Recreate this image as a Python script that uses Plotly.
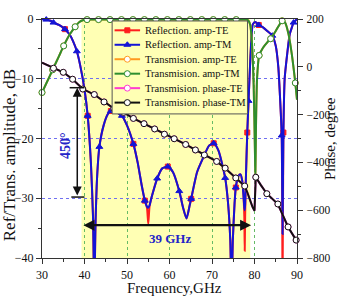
import plotly.graph_objects as go

# ---------------- data ----------------
refl_freq = [30, 31, 32, 32.7, 34, 35.4, 36.5, 37.3, 38.2, 39, 40, 40.75, 41.5, 42.0, 42.3, 42.6, 43.0, 43.5,
             44.5, 45.5, 46.2, 47.2, 48.0, 48.8, 50.0, 51.5, 52.5, 53.5, 54.2, 54.7, 55.0, 55.3, 55.8, 57.1,
             58.3, 59.6, 60.8, 62.3, 63.2, 64.0, 64.8, 65.1, 66.5, 68.2, 69.3, 70.4, 71.5, 73.1, 73.8, 74.3,
             74.6, 74.9, 75.3, 75.6, 76.2, 76.7, 77.1, 77.4, 77.6, 77.7, 77.8, 78.0, 78.3, 78.6, 79.0, 79.3,
             79.6, 80.2, 81.0, 82.0, 83.0, 84.2, 85.0, 85.6, 86.0, 86.4, 86.6, 86.8, 87.1, 87.7, 88.3, 88.8,
             89.2, 90]
refl_tm = [0, -0.1, -0.3, -0.6, -1.0, -1.7, -2.6, -3.7, -5.4, -7.8, -11.8, -16.2, -24, -33, -46, -34, -26, -21.4,
           -17.8, -15.9, -15.4, -15.5, -15.8, -16.2, -17.8, -20.9, -24, -28, -30.4, -31.4, -31.6, -31.2, -29.8, -26.7,
           -25.0, -24.7, -25.6, -28.8, -31.6, -33.4, -31.0, -30.1, -25.6, -22.8, -21.2, -20.8, -22.0, -26.6, -31, -37,
           -46, -37, -31, -28.2, -26.3, -26.0, -27, -29.5, -31.5, -32, -31, -26, -19, -13.7, -7, -3,
           -0.9, -0.5, -1.0, -1.4, -2.0, -2.8, -4.5, -8, -13, -19.5, -36, -19, -10, -5.8, -2.5, -1.4,
           -0.6, 0]
refl_te = [0, -0.1, -0.3, -0.6, -1.0, -1.7, -2.6, -3.7, -5.4, -7.8, -11.8, -16.2, -24, -33, -46, -34, -26, -21.4,
           -17.8, -15.9, -15.4, -15.5, -15.8, -16.2, -17.8, -20.9, -24, -28, -30.4, -31.6, -34.3, -31.4, -29.8, -26.7,
           -25.0, -24.7, -25.6, -28.8, -31.6, -33.4, -31.0, -30.1, -25.6, -22.8, -21.2, -20.8, -22.0, -26.6, -31, -37,
           -46, -37, -31, -28.2, -26.3, -26.0, -27, -29.5, -33, -38.8, -33, -26, -19, -13.7, -7, -3,
           -0.9, -0.5, -1.0, -1.4, -2.0, -2.8, -4.5, -8, -13, -19.5, -46, -19, -10, -5.8, -2.5, -1.4,
           -0.6, 0]
refl_tm_marks = [31, 32.7, 35.4, 38.2, 40.75, 43.5, 46.2, 48.8, 51.5, 54.2, 57.1, 59.6, 62.3, 65.1, 68.2, 70.4,
                 73.1, 75.6, 78.6, 81.0, 84.2, 86.4, 89.2]
refl_te_marks = [35.4, 40.75, 46.2, 51.5, 54.2, 59.6, 65.1, 70.4, 75.6, 78.3, 81.0, 86.8]

trans_freq = [30, 31, 32.5, 34, 35.1, 36.5, 37.8, 38.8, 39.6, 40.6, 43.3, 46.0, 48.7, 51.4, 54.1, 56.8, 59.5,
              62.2, 64.9, 67.6, 70.3, 73.0, 75.7, 77.5, 78.2, 78.6, 79.0, 79.4, 79.8, 80.1, 80.2, 80.35, 80.6,
              81.1, 82.0, 83.0, 83.8, 85.0, 86.0, 86.5, 87.2, 88.0, 88.8, 89.6, 90]
trans_tm = [-12.3, -10.8, -8.5, -6.2, -4.5, -2.6, -1.3, -0.5, -0.2, -0.1, -0.1, -0.1, -0.1, -0.1, -0.1, -0.1, -0.1,
            -0.1, -0.1, -0.1, -0.1, -0.1, -0.1, -0.1, -0.1, -0.3, -1.0, -4.0, -11.0, -22.0, -26.5, -18.0, -10.0,
            -6.1, -4.8, -3.9, -3.3, -2.0, -0.8, -0.3, -0.6, -2.5, -6.0, -10.7, -13.5]
trans_te = list(trans_tm)
trans_marks = [30, 32.5, 35.1, 37.8, 40.6, 43.3, 46.0, 48.7, 51.4, 54.1, 56.8, 59.5, 62.2, 64.9, 67.6, 70.3,
               73.0, 75.7, 81.1, 83.8, 86.5, 89.6]

phase_freq = [30, 32.7, 35.0, 37.2, 39.6, 42.3, 44.6, 46.9, 49.2, 51.5, 54.0, 56.5, 58.8, 61.1, 63.8, 66.1,
              68.2, 71.1, 73.1, 75.6, 77.7, 78.3, 78.9, 79.5, 80.0, 80.3, 81.5, 82.9, 85.5, 86.4, 87.9, 89.8, 90]
phase_tm = [17, -6, -23, -52, -93, -116, -147, -175, -191, -216, -238, -260, -282, -301, -325, -348,
            -369, -396, -424, -465, -499, -525, -560, -585, -602, -462, -495, -531, -574, -609, -670, -725, -730]
phase_te = list(phase_tm)
phase_marks = [32.7, 35.0, 37.2, 39.6, 42.3, 44.6, 46.9, 49.2, 51.5, 54.0, 56.5, 58.8, 61.1, 63.8, 66.1,
               68.2, 71.1, 73.1, 75.6, 77.7, 80.3, 82.9, 85.5, 87.9, 89.8]

x_ticks = [30, 40, 50, 60, 70, 80, 90]
y_ticks = [0, -10, -20, -30, -40]
y2_ticks = [200, 0, -200, -400, -600, -800]

band = [39.3, 79.0]          # shaded pass band
span_arrow = [39.4, 79.2]    # "39 GHz" arrow ends
phase_arrow = [-11.5, -29.8] # "450°" arrow ends (dB scale)

names = ["Reflection. amp-TE", "Reflection. amp-TM", "Transmision. amp-TE",
         "Transmision. amp-TM", "Transmision. phase-TE", "Transmision. phase-TM"]

# ---------------- style ----------------
FONT = "Liberation Serif"
RED = "#FF1E1E"
BLUE = "#1414D6"
ORANGE = "#FF9A1F"
GREEN = "#2E8E2E"
MAGENTA = "#FF3CD0"
BLACK = "#111111"
YELLOW = "#FFFFB4"
TXT_BLUE = "#2424C8"

W, H = 342, 300
ML, MR, MT, MB = 42, 40, 15, 42

fig = go.Figure()

specs = [
    (RED, "square", 5, RED),
    (BLUE, "triangle-up", 6, BLUE),
    (ORANGE, "circle", 6, "white"),
    (GREEN, "circle", 6, "white"),
    (MAGENTA, "circle", 6, "white"),
    (BLACK, "circle", 6, "white"),
]


def add_series(xs, ys, marks, spec, yaxis="y", shape="spline"):
    col, sym, sz, fill = spec
    fig.add_trace(go.Scatter(x=xs, y=ys, mode="lines", showlegend=False, yaxis=yaxis,
                             line=dict(color=col, width=2, shape=shape, smoothing=0.6)))
    mx = [x for x in xs if x in marks]
    my = [y for x, y in zip(xs, ys) if x in marks]
    fig.add_trace(go.Scatter(x=mx, y=my, mode="markers", showlegend=False, yaxis=yaxis, cliponaxis=False,
                             marker=dict(symbol=sym, size=sz, color=fill, line=dict(color=col, width=1))))


add_series(refl_freq, refl_te, refl_te_marks, specs[0])
add_series(refl_freq, refl_tm, refl_tm_marks, specs[1])
add_series(trans_freq, trans_te, trans_marks, specs[2])
add_series(trans_freq, trans_tm, trans_marks, specs[3])
add_series(phase_freq, phase_te, phase_marks, specs[4], yaxis="y2", shape="linear")
add_series(phase_freq, phase_tm, phase_marks, specs[5], yaxis="y2", shape="linear")

# ---------------- legend box drawn in a pixel-coordinate overlay ----------------
box_l, box_r, box_t, box_b = 113.5, 251.5, 17, 111.5
row_y0, row_dy = 26.5, 14.7
fig.add_trace(go.Scatter(x=[box_l, box_r, box_r, box_l, box_l], y=[box_t, box_t, box_b, box_b, box_t],
                         xaxis="x3", yaxis="y3", mode="lines", fill="toself", fillcolor=YELLOW,
                         line=dict(color="#555555", width=1), showlegend=False, hoverinfo="skip"))
for i, (nm, sp) in enumerate(zip(names, specs)):
    col, sym, sz, fill = sp
    yy = row_y0 + i * row_dy
    fig.add_trace(go.Scatter(x=[116, 142], y=[yy, yy], xaxis="x3", yaxis="y3", mode="lines",
                             line=dict(color=col, width=2), showlegend=False, hoverinfo="skip"))
    fig.add_trace(go.Scatter(x=[129], y=[yy], xaxis="x3", yaxis="y3", mode="markers", showlegend=False,
                             marker=dict(symbol=sym, size=sz, color=fill, line=dict(color=col, width=1)),
                             hoverinfo="skip"))
    fig.add_annotation(x=145, y=yy, xref="x3", yref="y3", text=nm, showarrow=False, xanchor="left",
                       yanchor="middle", font=dict(family=FONT, size=10.5, color=BLACK))

fig.add_shape(type="rect", xref="x", yref="paper", x0=band[0], x1=band[1], y0=0, y1=1,
              fillcolor=YELLOW, line=dict(width=0), layer="below")

# 450 degree bracket
fig.add_shape(type="line", xref="x", yref="y", x0=36.5, x1=40.0, y0=phase_arrow[0], y1=phase_arrow[0],
              line=dict(color=BLACK, width=1.5))
fig.add_shape(type="line", xref="x", yref="y", x0=36.9, x1=40.0, y0=phase_arrow[1], y1=phase_arrow[1],
              line=dict(color=BLACK, width=1.5))
fig.add_annotation(x=38.3, y=phase_arrow[0], ax=38.3, ay=phase_arrow[1], xref="x", yref="y",
                   axref="x", ayref="y", text="", showarrow=True, arrowhead=2, startarrowhead=2,
                   arrowside="end+start", arrowsize=1.2, arrowwidth=1.5, arrowcolor=BLACK,
                   standoff=0, startstandoff=0)
fig.add_annotation(x=35.4, y=-21.1, xref="x", yref="y", text="<b>450°</b>", showarrow=False,
                   textangle=-90, xanchor="center", yanchor="middle",
                   font=dict(family=FONT, size=14, color=TXT_BLUE))

# 39 GHz span
fig.add_annotation(x=span_arrow[1], y=-34.5, ax=span_arrow[0], ay=-34.5, xref="x", yref="y",
                   axref="x", ayref="y", text="", showarrow=True, arrowhead=2, startarrowhead=2,
                   arrowside="end+start", arrowsize=1, arrowwidth=2.2, arrowcolor=BLACK,
                   standoff=0, startstandoff=0)
fig.add_annotation(x=60, y=-36.7, xref="x", yref="y", text="<b>39 GHz</b>", showarrow=False,
                   xanchor="center", yanchor="middle", font=dict(family=FONT, size=13, color=TXT_BLUE))

# axis titles
fig.add_annotation(x=0, y=0.43, xref="paper", yref="paper", xshift=-33, text="Ref/Trans. amplitude, dB",
                   showarrow=False, textangle=-90, xanchor="center", yanchor="middle",
                   font=dict(family=FONT, size=17, color=BLACK))
fig.add_annotation(x=1, y=0.5, xref="paper", yref="paper", xshift=32.5, text="Phase, degree",
                   showarrow=False, textangle=-90, xanchor="center", yanchor="middle",
                   font=dict(family=FONT, size=15, color=BLACK))
fig.add_annotation(x=0.52, y=-0.126, xref="paper", yref="paper", text="Frequency,GHz",
                   showarrow=False, xanchor="center", yanchor="middle",
                   font=dict(family=FONT, size=15, color=BLACK))

axis_common = dict(showline=True, linecolor="#333333", linewidth=1.2, ticks="outside", ticklen=5,
                   tickcolor="#333333", zeroline=False)

fig.update_layout(
    width=W, height=H,
    margin=dict(l=ML, r=MR, t=MT, b=MB),
    paper_bgcolor="white", plot_bgcolor="rgba(0,0,0,0)",
    font=dict(family=FONT, color=BLACK),
    xaxis=dict(range=[30, 90], tickvals=x_ticks, mirror=True, showgrid=True, gridcolor="#66BB66",
               griddash="dot", gridwidth=1, tickfont=dict(family=FONT, size=12, color=BLACK),
               minor=dict(ticks="outside", ticklen=3, dtick=5, tick0=30, tickcolor="#333333", showgrid=False),
               **axis_common),
    yaxis=dict(range=[-40, 0], tickvals=y_ticks, showgrid=True, gridcolor="#7070F0", griddash="dot",
               gridwidth=1, tickfont=dict(family=FONT, size=12, color=BLACK),
               minor=dict(ticks="outside", ticklen=3, dtick=5, tick0=0, tickcolor="#333333", showgrid=False),
               **axis_common),
    yaxis2=dict(range=[-800, 200], tickvals=y2_ticks, overlaying="y", side="right", showgrid=False,
                tickfont=dict(family=FONT, size=11.5, color=BLACK), ticklabelstandoff=1,
                minor=dict(ticks="outside", ticklen=3, dtick=100, tick0=0, tickcolor="#333333"),
                **axis_common),
    xaxis3=dict(overlaying="x", range=[ML, W - MR], visible=False, anchor="y3"),
    yaxis3=dict(overlaying="y", range=[H - MB, MT], visible=False, anchor="x3"),
    showlegend=False,
)

fig.write_html("out.html")
